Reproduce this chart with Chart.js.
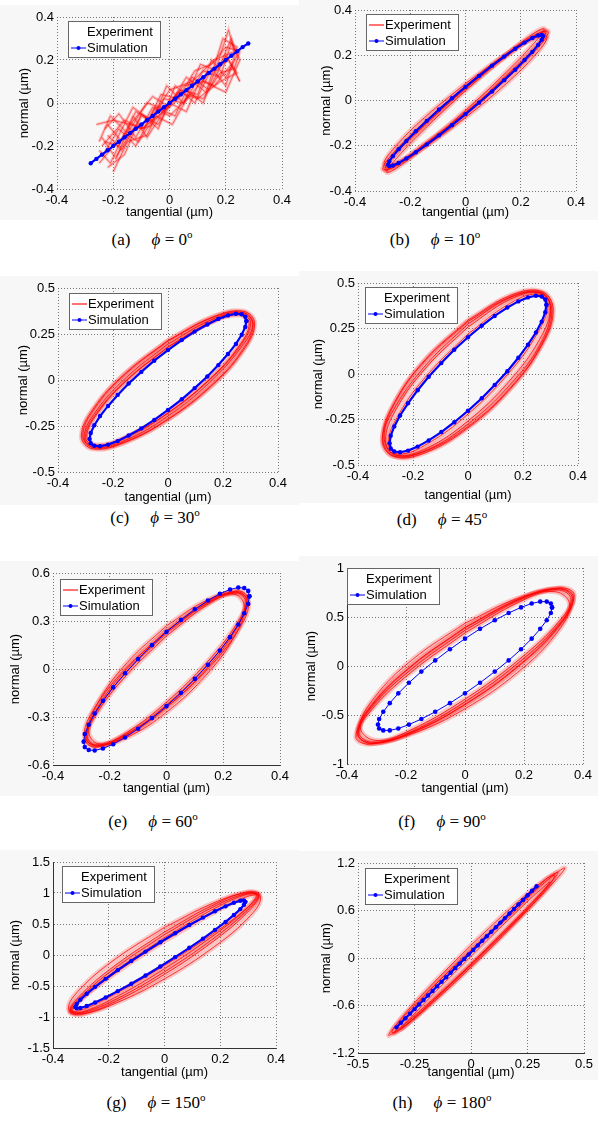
<!DOCTYPE html>
<html>
<head>
<meta charset="utf-8">
<script src="https://cdn.jsdelivr.net/npm/chart.js@4.4.0/dist/chart.umd.min.js"></script>
<style>
  body { margin: 0; background: #fff; }
  #page { position: relative; width: 598px; height: 1122px; overflow: hidden; }
  #page canvas { position: absolute; background: #f7f7f7; }
  .cap { position: absolute; font-family: 'Liberation Serif', 'Times New Roman', serif; font-size: 17px;
         white-space: pre; transform: translate(-50%, -50%); color: #000; }
  .cap sup { font-size: 11px; vertical-align: 7px; line-height: 0; }
</style>
</head>
<body>
<div id="page"></div>
<script>
// ---- (a) phi = 0 ----
const simA_x = [-0.28,-0.26,-0.24,-0.22,-0.20,-0.18,-0.16,-0.14,-0.12,-0.10,-0.08,-0.06,-0.04,-0.02,0,0.02,0.04,0.06,0.08,0.10,0.12,0.14,0.16,0.18,0.20,0.22,0.24,0.26,0.28];
const simA_y = [-0.28,-0.26,-0.24,-0.22,-0.20,-0.18,-0.16,-0.14,-0.12,-0.10,-0.08,-0.06,-0.04,-0.02,0,0.02,0.04,0.06,0.08,0.10,0.12,0.14,0.16,0.18,0.20,0.22,0.24,0.26,0.277];
const expA1_x = [-0.24,-0.18,-0.12,-0.05,0.02,0.08,0.14,0.20,0.24,0.18,0.10,0.03,-0.04,-0.10,-0.17,-0.22];
const expA1_y = [-0.25,-0.12,-0.20,-0.02,-0.06,0.12,0.06,0.22,0.14,0.10,0.02,0.05,-0.10,-0.06,-0.22,-0.15];
const expA2_x = [-0.20,-0.15,-0.08,-0.02,0.05,0.12,0.18,0.22,0.25,0.20,0.12,0.05,-0.03,-0.10,-0.16,-0.24];
const expA2_y = [-0.32,-0.18,-0.15,0.02,0.00,0.15,0.12,0.28,0.20,0.05,0.10,0.08,-0.05,-0.12,-0.08,-0.20];
const expA3_x = [-0.26,-0.20,-0.14,-0.06,0.00,0.06,0.12,0.17,0.21,0.23,0.16,0.08,0.00,-0.07,-0.13,-0.20,-0.25];
const expA3_y = [-0.10,-0.08,-0.10,0.03,-0.02,0.06,0.00,0.18,0.34,0.24,0.20,0.10,0.06,-0.08,-0.02,-0.20,-0.28];
const expA4_x = [-0.19,-0.13,-0.07,0.00,0.06,0.11,0.16,0.22,0.25,0.21,0.14,0.07,0.00,-0.06,-0.12,-0.18,-0.23];
const expA4_y = [-0.25,-0.12,-0.11,0.00,-0.04,0.11,0.08,0.18,0.10,0.20,0.14,0.03,-0.06,-0.02,-0.16,-0.05,-0.12];
const expA5_x = [-0.22,-0.16,-0.10,-0.04,0.02,0.09,0.15,0.20,0.24,0.19,0.13,0.06,-0.01,-0.08,-0.15,-0.21,-0.25];
const expA5_y = [-0.30,-0.24,-0.05,-0.12,0.08,0.00,0.16,0.08,0.26,0.30,0.05,0.12,-0.03,0.00,-0.14,-0.06,-0.18];
const expA6_x = [-0.25,-0.21,-0.16,-0.11,-0.05,0.01,0.07,0.12,0.18,0.23,0.25,0.20,0.15,0.09,0.03,-0.03,-0.09,-0.14,-0.19,-0.24];
const expA6_y = [-0.22,-0.28,-0.14,-0.18,-0.06,-0.10,0.04,0.02,0.14,0.16,0.24,0.26,0.18,0.15,0.02,0.04,-0.12,-0.10,-0.26,-0.16];
const expA7_x = [-0.23,-0.18,-0.13,-0.08,-0.02,0.04,0.10,0.15,0.20,0.24,0.22,0.17,0.11,0.05,-0.01,-0.06,-0.12,-0.17,-0.22];
const expA7_y = [-0.18,-0.20,-0.06,-0.16,-0.04,0.06,0.04,0.20,0.12,0.22,0.30,0.15,0.18,0.00,0.08,-0.08,-0.04,-0.18,-0.10];

// ---- (b) phi = 10 ----
const simB_x = [0.280,0.276,0.263,0.242,0.214,0.180,0.140,0.096,0.049,0,-0.049,-0.096,-0.140,-0.180,-0.214,-0.242,-0.263,-0.276,-0.280,-0.276,-0.263,-0.242,-0.214,-0.180,-0.140,-0.096,-0.049,0,0.049,0.096,0.140,0.180,0.214,0.242,0.263,0.276,0.280];
const simB_y = [0.284,0.290,0.287,0.276,0.256,0.229,0.194,0.154,0.109,0.060,0.010,-0.040,-0.090,-0.136,-0.179,-0.215,-0.246,-0.269,-0.284,-0.290,-0.287,-0.276,-0.256,-0.229,-0.194,-0.154,-0.109,-0.060,-0.010,0.040,0.090,0.136,0.179,0.215,0.246,0.269,0.284];
const expB1_x = [0,-0.145,-0.251,-0.290,-0.251,-0.145,0,0.145,0.251,0.290,0.251,0.145,0];
const expB1_y = [0.052,-0.103,-0.230,-0.296,-0.282,-0.188,-0.052,0.103,0.230,0.296,0.282,0.198,0.052];
const expB2_x = [0,-0.150,-0.260,-0.300,-0.260,-0.150,0,0.150,0.260,0.300,0.260,0.150,0];
const expB2_y = [0.064,-0.096,-0.230,-0.303,-0.295,-0.207,-0.064,0.096,0.230,0.303,0.295,0.207,0.064];
const expB3_x = [0,-0.143,-0.247,-0.285,-0.247,-0.143,0,0.143,0.247,0.285,0.247,0.143,0];
const expB3_y = [0.044,-0.120,-0.252,-0.317,-0.297,-0.197,-0.044,0.120,0.252,0.317,0.297,0.197,0.044];
const expB4_x = [0,-0.148,-0.255,-0.295,-0.255,-0.148,0,0.148,0.255,0.295,0.255,0.148,0];
const expB4_y = [0.075,-0.075,-0.205,-0.280,-0.280,-0.205,-0.075,0.075,0.205,0.280,0.280,0.205,0.075];
const expB5_x = [0,-0.147,-0.256,-0.292,-0.256,-0.147,0,0.147,0.256,0.292,0.256,0.147,0];
const expB5_y = [0.058,-0.110,-0.240,-0.306,-0.290,-0.195,-0.058,0.110,0.240,0.306,0.290,0.195,0.058];

// ---- (c) phi = 30 ----
const simC_x = [0.285,0.281,0.268,0.247,0.218,0.183,0.143,0.097,0.050,0,-0.050,-0.097,-0.143,-0.183,-0.218,-0.247,-0.268,-0.281,-0.285,-0.281,-0.268,-0.247,-0.218,-0.183,-0.143,-0.097,-0.050,0,0.050,0.097,0.143,0.183,0.218,0.247,0.268,0.281,0.285];
const simC_y = [0.321,0.344,0.357,0.360,0.351,0.332,0.302,0.263,0.217,0.163,0.105,0.044,-0.019,-0.081,-0.141,-0.196,-0.246,-0.288,-0.321,-0.344,-0.357,-0.360,-0.351,-0.332,-0.302,-0.263,-0.217,-0.163,-0.105,-0.044,0.019,0.081,0.141,0.196,0.246,0.288,0.321];
const expC1_x = [0,-0.150,-0.260,-0.300,-0.260,-0.150,0,0.150,0.260,0.300,0.260,0.150,0];
const expC1_y = [0.180,0,-0.180,-0.312,-0.360,-0.312,-0.180,0,0.180,0.312,0.360,0.312,0.180];
const expC2_x = [0,-0.155,-0.268,-0.310,-0.268,-0.155,0,0.155,0.268,0.310,0.268,0.155,0];
const expC2_y = [0.212,0.032,-0.157,-0.303,-0.369,-0.335,-0.212,-0.032,0.157,0.303,0.369,0.335,0.212];
const expC3_x = [0,-0.148,-0.255,-0.295,-0.255,-0.148,0,0.148,0.255,0.295,0.255,0.148,0];
const expC3_y = [0.178,0,-0.178,-0.307,-0.355,-0.307,-0.178,0,0.178,0.307,0.355,0.307,0.178];
const expC4_x = [0,-0.158,-0.273,-0.315,-0.273,-0.158,0,0.158,0.273,0.315,0.273,0.158,0];
const expC4_y = [0.215,0.033,-0.159,-0.307,-0.374,-0.340,-0.215,-0.033,0.159,0.307,0.374,0.340,0.215];
const expC5_x = [0,-0.152,-0.262,-0.305,-0.266,-0.152,0,0.150,0.262,0.308,0.270,0.156,0];
const expC5_y = [0.196,0.014,-0.170,-0.310,-0.366,-0.326,-0.196,-0.016,0.170,0.300,0.366,0.326,0.196];

// ---- (d) phi = 45 ----
const simD_x = [0.285,0.281,0.268,0.247,0.218,0.183,0.143,0.097,0.050,0,-0.050,-0.097,-0.143,-0.183,-0.218,-0.247,-0.268,-0.281,-0.285,-0.281,-0.268,-0.247,-0.218,-0.183,-0.143,-0.097,-0.050,0,0.050,0.097,0.143,0.183,0.218,0.247,0.268,0.281,0.285];
const simD_y = [0.380,0.409,0.426,0.430,0.421,0.399,0.365,0.319,0.265,0.202,0.133,0.060,-0.015,-0.089,-0.161,-0.228,-0.288,-0.339,-0.380,-0.409,-0.426,-0.430,-0.421,-0.399,-0.365,-0.319,-0.265,-0.202,-0.133,-0.060,0.015,0.089,0.161,0.228,0.288,0.339,0.380];
const expD1_x = [0,-0.150,-0.260,-0.300,-0.260,-0.150,0,0.150,0.260,0.300,0.260,0.150,0];
const expD1_y = [0.258,0.039,-0.190,-0.369,-0.448,-0.408,-0.258,-0.039,0.190,0.369,0.448,0.408,0.258];
const expD2_x = [0,-0.155,-0.268,-0.310,-0.268,-0.155,0,0.155,0.268,0.310,0.268,0.155,0];
const expD2_y = [0.296,0.080,-0.157,-0.352,-0.453,-0.432,-0.296,-0.080,0.157,0.352,0.453,0.432,0.296];
const expD3_x = [0,-0.145,-0.251,-0.290,-0.251,-0.145,0,0.145,0.251,0.290,0.251,0.145,0];
const expD3_y = [0.220,0,-0.220,-0.381,-0.440,-0.381,-0.220,0,0.220,0.381,0.440,0.381,0.220];
const expD4_x = [0,-0.153,-0.264,-0.305,-0.264,-0.153,0,0.153,0.264,0.305,0.264,0.153,0];
const expD4_y = [0.289,0.078,-0.154,-0.345,-0.443,-0.423,-0.289,-0.078,0.154,0.345,0.443,0.423,0.289];
const expD5_x = [0,-0.148,-0.262,-0.312,-0.270,-0.150,0,0.152,0.266,0.300,0.262,0.150,0];
const expD5_y = [0.275,0.058,-0.175,-0.360,-0.452,-0.418,-0.275,-0.060,0.172,0.360,0.450,0.418,0.275];

// ---- (e) phi = 60 ----
const simE_x = [0.292,0.288,0.274,0.253,0.224,0.188,0.146,0.100,0.051,0,-0.051,-0.100,-0.146,-0.188,-0.224,-0.253,-0.274,-0.288,-0.292,-0.288,-0.274,-0.253,-0.224,-0.188,-0.146,-0.100,-0.051,0,0.051,0.100,0.146,0.188,0.224,0.253,0.274,0.288,0.292];
const simE_y = [0.454,0.488,0.506,0.509,0.497,0.470,0.428,0.373,0.307,0.232,0.149,0.062,-0.027,-0.115,-0.199,-0.278,-0.348,-0.407,-0.454,-0.488,-0.506,-0.509,-0.497,-0.470,-0.428,-0.373,-0.307,-0.232,-0.149,-0.062,0.027,0.115,0.199,0.278,0.348,0.407,0.454];
const expE1_x = [0,-0.140,-0.242,-0.280,-0.242,-0.140,0,0.140,0.242,0.280,0.242,0.140,0];
const expE1_y = [0.240,0,-0.240,-0.416,-0.480,-0.416,-0.240,0,0.240,0.416,0.480,0.416,0.240];
const expE2_x = [0,-0.143,-0.247,-0.285,-0.247,-0.143,0,0.143,0.247,0.285,0.247,0.143,0];
const expE2_y = [0.207,-0.043,-0.281,-0.444,-0.488,-0.401,-0.207,0.043,0.281,0.444,0.488,0.401,0.207];
const expE3_x = [0,-0.138,-0.238,-0.275,-0.238,-0.138,0,0.138,0.238,0.275,0.238,0.138,0];
const expE3_y = [0.270,0.041,-0.199,-0.385,-0.468,-0.426,-0.270,-0.041,0.199,0.385,0.468,0.426,0.270];
const expE4_x = [0,-0.145,-0.251,-0.290,-0.251,-0.145,0,0.145,0.251,0.290,0.251,0.145,0];
const expE4_y = [0.238,0,-0.238,-0.411,-0.475,-0.411,-0.238,0,0.238,0.411,0.475,0.411,0.238];
const expE5_x = [0,-0.141,-0.244,-0.283,-0.245,-0.141,0,0.141,0.245,0.282,0.244,0.141,0];
const expE5_y = [0.225,-0.020,-0.258,-0.428,-0.482,-0.410,-0.225,0.020,0.258,0.430,0.484,0.410,0.225];

// ---- (f) phi = 90 ----
const simF_x = [0.295,0.291,0.277,0.255,0.226,0.190,0.148,0.101,0.051,0,-0.051,-0.101,-0.148,-0.190,-0.226,-0.255,-0.277,-0.291,-0.295,-0.291,-0.277,-0.255,-0.226,-0.190,-0.148,-0.101,-0.051,0,0.051,0.101,0.148,0.190,0.226,0.255,0.277,0.291,0.295];
const simF_y = [0.598,0.638,0.657,0.657,0.638,0.598,0.541,0.467,0.379,0.279,0.171,0.057,-0.057,-0.171,-0.279,-0.379,-0.467,-0.541,-0.598,-0.638,-0.657,-0.657,-0.638,-0.598,-0.541,-0.467,-0.379,-0.279,-0.171,-0.057,0.057,0.171,0.279,0.379,0.467,0.541,0.598];
const expF1_x = [0,-0.180,-0.312,-0.360,-0.312,-0.180,0,0.180,0.312,0.360,0.312,0.180,0];
const expF1_y = [0.390,0,-0.390,-0.675,-0.780,-0.675,-0.390,0,0.390,0.675,0.780,0.675,0.390];
const expF2_x = [0,-0.185,-0.320,-0.370,-0.320,-0.185,0,0.185,0.320,0.370,0.320,0.185,0];
const expF2_y = [0.338,-0.070,-0.459,-0.725,-0.797,-0.655,-0.338,0.070,0.459,0.725,0.797,0.655,0.338];
const expF3_x = [0,-0.178,-0.307,-0.355,-0.307,-0.178,0,0.178,0.307,0.355,0.307,0.178,0];
const expF3_y = [0.436,0.066,-0.321,-0.622,-0.757,-0.689,-0.436,-0.066,0.321,0.622,0.757,0.689,0.436];
const expF4_x = [0,-0.183,-0.316,-0.365,-0.316,-0.183,0,0.183,0.316,0.365,0.316,0.183,0];
const expF4_y = [0.395,0,-0.395,-0.684,-0.790,-0.684,-0.395,0,0.395,0.684,0.790,0.684,0.395];
const expF5_x = [0,-0.182,-0.318,-0.362,-0.310,-0.180,0,0.182,0.318,0.368,0.314,0.180,0];
const expF5_y = [0.365,-0.035,-0.425,-0.700,-0.790,-0.668,-0.365,0.035,0.425,0.700,0.792,0.668,0.365];

// ---- (g) phi = 150 ----
const simG_x = [0.290,0.285,0.272,0.249,0.219,0.181,0.138,0.089,0.038,-0.015,-0.068,-0.119,-0.168,-0.211,-0.249,-0.279,-0.302,-0.315,-0.320,-0.315,-0.302,-0.279,-0.249,-0.211,-0.168,-0.119,-0.068,-0.015,0.038,0.089,0.138,0.181,0.219,0.249,0.272,0.285,0.290];
const simG_y = [0.857,0.879,0.874,0.842,0.785,0.705,0.603,0.484,0.350,0.206,0.055,-0.096,-0.244,-0.385,-0.514,-0.626,-0.720,-0.791,-0.837,-0.859,-0.854,-0.822,-0.765,-0.685,-0.583,-0.464,-0.330,-0.186,-0.035,0.116,0.264,0.405,0.534,0.646,0.740,0.811,0.857];
const expG1_x = [0,-0.170,-0.294,-0.340,-0.294,-0.170,0,0.170,0.294,0.340,0.294,0.170,0];
const expG1_y = [0.372,-0.144,-0.613,-0.910,-0.955,-0.736,-0.312,0.204,0.673,0.970,1.015,0.796,0.372];
const expG2_x = [0,-0.165,-0.286,-0.330,-0.286,-0.165,0,0.165,0.286,0.330,0.286,0.165,0];
const expG2_y = [0.281,-0.221,-0.656,-0.907,-0.907,-0.656,-0.221,0.281,0.716,0.967,0.967,0.716,0.281];
const expG3_x = [0,-0.173,-0.299,-0.345,-0.299,-0.173,0,0.173,0.299,0.345,0.299,0.173,0];
const expG3_y = [0.445,-0.055,-0.533,-0.858,-0.946,-0.773,-0.385,0.115,0.593,0.918,1.006,0.833,0.445];
const expG4_x = [0,-0.168,-0.290,-0.335,-0.290,-0.168,0,0.168,0.290,0.335,0.290,0.168,0];
const expG4_y = [0.228,-0.264,-0.676,-0.899,-0.873,-0.606,-0.168,0.324,0.736,0.959,0.933,0.666,0.228];
const expG5_x = [0,-0.168,-0.292,-0.338,-0.292,-0.168,0,0.168,0.292,0.338,0.292,0.168,0];
const expG5_y = [0.330,-0.180,-0.640,-0.905,-0.930,-0.700,-0.270,0.240,0.700,0.965,0.990,0.760,0.330];

// ---- (h) phi = 180 ----
const simH_x = [-0.33,-0.31,-0.29,-0.27,-0.25,-0.23,-0.21,-0.19,-0.17,-0.15,-0.13,-0.11,-0.09,-0.07,-0.05,-0.03,-0.01,0.01,0.03,0.05,0.07,0.09,0.11,0.13,0.15,0.17,0.19,0.21,0.23,0.25,0.27,0.29];
const simH_y = [-0.876,-0.818,-0.761,-0.703,-0.646,-0.588,-0.531,-0.473,-0.416,-0.358,-0.301,-0.243,-0.186,-0.128,-0.071,-0.013,0.044,0.102,0.159,0.217,0.274,0.332,0.389,0.447,0.504,0.562,0.619,0.677,0.734,0.792,0.849,0.907];
const expH1_x = [0.025,-0.170,-0.313,-0.365,-0.313,-0.170,0.025,0.220,0.363,0.415,0.363,0.220,0.025];
const expH1_y = [0.172,-0.368,-0.788,-0.976,-0.880,-0.528,-0.012,0.528,0.948,1.136,1.040,0.688,0.172];
const expH2_x = [0.010,-0.170,-0.302,-0.350,-0.302,-0.170,0.010,0.190,0.322,0.370,0.322,0.190,0.010];
const expH2_y = [0.189,-0.325,-0.738,-0.940,-0.877,-0.566,-0.089,0.425,0.838,1.040,0.977,0.666,0.189];
const expH3_x = [0.020,-0.145,-0.266,-0.310,-0.266,-0.145,0.020,0.185,0.306,0.350,0.306,0.185,0.020];
const expH3_y = [0.078,-0.392,-0.750,-0.899,-0.799,-0.477,-0.018,0.452,0.810,0.959,0.859,0.537,0.078];
const expH4_x = [0.015,-0.160,-0.290,-0.340,-0.290,-0.160,0.015,0.200,0.330,0.385,0.330,0.200,0.015];
const expH4_y = [0.130,-0.345,-0.760,-0.950,-0.850,-0.520,-0.050,0.480,0.880,1.080,0.990,0.610,0.130];

// panel layout (page pixels) and axis settings
const panels = [
  { cap: '(a)', phi: '0',   x0: 0,   L: 57,  R: 282, T: 17,  B: 189,  xr: [-0.4, 0.4, 0.2],  yr: [-0.4, 0.4, 0.2],
    yTitle: 24, xTitle: 23, leg: [11, 4], red: false, bx: false, by: false, sim: [simA_x, simA_y], thin: false, tension: 0,
    exp: [[expA1_x, expA1_y], [expA2_x, expA2_y], [expA3_x, expA3_y], [expA4_x, expA4_y], [expA5_x, expA5_y], [expA6_x, expA6_y], [expA7_x, expA7_y]], cx: 152, cy: 240 },
  { cap: '(b)', phi: '10',  x0: 299, L: 355, R: 576, T: 10,  B: 191,  xr: [-0.4, 0.4, 0.2],  yr: [-0.4, 0.4, 0.2],
    yTitle: 27, xTitle: 21, leg: [11, 4], red: true, bx: false, by: false, sim: [simB_x, simB_y], thin: false, tension: 0.4,
    exp: [[expB1_x, expB1_y], [expB2_x, expB2_y], [expB3_x, expB3_y], [expB4_x, expB4_y], [expB5_x, expB5_y]], cx: 435, cy: 240 },
  { cap: '(c)', phi: '30',  x0: 0,   L: 58,  R: 278, T: 288, B: 472,  xr: [-0.4, 0.4, 0.2],  yr: [-0.5, 0.5, 0.25],
    yTitle: 23, xTitle: 25, leg: [11, 5], red: true, bx: false, by: false, sim: [simC_x, simC_y], thin: false, tension: 0.4,
    exp: [[expC1_x, expC1_y], [expC2_x, expC2_y], [expC3_x, expC3_y], [expC4_x, expC4_y], [expC5_x, expC5_y]], cx: 155, cy: 518 },
  { cap: '(d)', phi: '45',  x0: 299, L: 358, R: 578, T: 283, B: 465,  xr: [-0.4, 0.4, 0.2],  yr: [-0.5, 0.5, 0.25],
    yTitle: 19, xTitle: 30, leg: [7, 4], red: false, bx: false, by: false, sim: [simD_x, simD_y], thin: false, tension: 0.4,
    exp: [[expD1_x, expD1_y], [expD2_x, expD2_y], [expD3_x, expD3_y], [expD4_x, expD4_y], [expD5_x, expD5_y]], cx: 442, cy: 520 },
  { cap: '(e)', phi: '60',  x0: 0,   L: 53,  R: 280, T: 573, B: 765,  xr: [-0.4, 0.4, 0.2],  yr: [-0.6, 0.6, 0.3],
    yTitle: 15, xTitle: 23, leg: [7, 6], red: true, bx: true, by: false, sim: [simE_x, simE_y], thin: true, tension: 0.4,
    exp: [[expE1_x, expE1_y], [expE2_x, expE2_y], [expE3_x, expE3_y], [expE4_x, expE4_y], [expE5_x, expE5_y]], cx: 153, cy: 822 },
  { cap: '(f)', phi: '90',  x0: 299, L: 347, R: 583, T: 568, B: 764,  xr: [-0.4, 0.4, 0.2],  yr: [-1, 1, 0.5],
    yTitle: 12, xTitle: 24, leg: [0, 0], red: false, bx: false, by: true, sim: [simF_x, simF_y], thin: true, tension: 0.4,
    exp: [[expF1_x, expF1_y], [expF2_x, expF2_y], [expF3_x, expF3_y], [expF4_x, expF4_y], [expF5_x, expF5_y]], cx: 442, cy: 822 },
  { cap: '(g)', phi: '150', x0: 0,   L: 53,  R: 276, T: 862, B: 1048, xr: [-0.4, 0.4, 0.2],  yr: [-1.5, 1.5, 0.5],
    yTitle: 15, xTitle: 24, leg: [9, 4], red: false, bx: true, by: true, sim: [simG_x, simG_y], thin: false, tension: 0.4,
    exp: [[expG1_x, expG1_y], [expG2_x, expG2_y], [expG3_x, expG3_y], [expG4_x, expG4_y], [expG5_x, expG5_y]], cx: 156, cy: 1103 },
  { cap: '(h)', phi: '180', x0: 299, L: 358, R: 584, T: 863, B: 1053, xr: [-0.5, 0.5, 0.25], yr: [-1.2, 1.2, 0.6],
    yTitle: 27, xTitle: 19, leg: [7, 5], red: false, bx: true, by: false, sim: [simH_x, simH_y], thin: false, tension: 0.4,
    exp: [[expH1_x, expH1_y], [expH2_x, expH2_y], [expH3_x, expH3_y], [expH4_x, expH4_y]], cx: 442, cy: 1103 }
];

const FONT = "'Liberation Sans', Arial, sans-serif";
Chart.defaults.font.family = FONT;
Chart.defaults.font.size = 13;
Chart.defaults.color = '#000';

function pts(xs, ys) {
  return xs.map((x, i) => ({ x: x, y: ys[i] }));
}

// legend box drawn inside the plot area, like the MATLAB one
const legendBox = {
  id: 'legendBox',
  afterDatasetsDraw(chart, args, o) {
    const ctx = chart.ctx, a = chart.chartArea;
    const x = a.left + o.dx, y = a.top + o.dy, w = 92, h = 36;
    ctx.save();
    ctx.fillStyle = '#fff';
    ctx.fillRect(x, y, w, h);
    ctx.strokeStyle = '#666';
    ctx.lineWidth = 1;
    ctx.strokeRect(x + 0.5, y + 0.5, w, h);
    if (o.red) {
      ctx.strokeStyle = 'rgba(255,0,0,0.85)';
      ctx.lineWidth = 1.3;
      ctx.beginPath(); ctx.moveTo(x + 3, y + 11); ctx.lineTo(x + 18, y + 11); ctx.stroke();
    }
    ctx.strokeStyle = '#0000ff';
    ctx.lineWidth = 1;
    ctx.beginPath(); ctx.moveTo(x + 3, y + 27); ctx.lineTo(x + 18, y + 27); ctx.stroke();
    ctx.fillStyle = '#0000ff';
    ctx.beginPath(); ctx.arc(x + 10.5, y + 27, 2, 0, Math.PI * 2); ctx.fill();
    ctx.fillStyle = '#000';
    ctx.font = '13px ' + FONT;
    ctx.textBaseline = 'middle';
    ctx.fillText('Experiment', x + 19, y + 11);
    ctx.fillText('Simulation', x + 19, y + 27);
    ctx.restore();
  }
};

const page = document.getElementById('page');

panels.forEach(p => {
  const xH = p.xTitle + 8;                 // height of x axis box
  const cw = 299, ch = 12 + (p.B - p.T) + xH;
  const canvas = document.createElement('canvas');
  canvas.width = cw; canvas.height = ch;
  canvas.style.left = p.x0 + 'px';
  canvas.style.top = (p.T - 12) + 'px';
  page.appendChild(canvas);

  const datasets = [{
    data: pts(p.sim[0], p.sim[1]),
    showLine: true,
    borderColor: '#0000ff',
    borderWidth: p.thin ? 1 : 2.2,
    pointRadius: p.thin ? 2.3 : 2.2,
    pointBackgroundColor: '#0000ff',
    pointBorderWidth: 0,
    tension: 0
  }];
  // thin experiment traces
  p.exp.forEach(e => {
    datasets.push({
      data: pts(e[0], e[1]),
      showLine: true,
      borderColor: 'rgba(255,0,0,0.85)',
      borderWidth: p.tension ? 0.9 : 0.6,
      pointRadius: 0,
      tension: p.tension
    });
  });
  // soft haze behind them, same traces
  p.exp.forEach(e => {
    datasets.push({
      data: pts(e[0], e[1]),
      showLine: true,
      borderColor: 'rgba(255,20,20,0.22)',
      borderWidth: p.tension ? 5 : 3,
      pointRadius: 0,
      tension: p.tension
    });
  });

  const axis = (r, solid, title) => ({
    type: 'linear',
    min: r[0], max: r[1],
    ticks: { stepSize: r[2], autoSkip: false, maxRotation: 0, padding: 3, color: '#000', font: { size: 13 },
             callback: v => String(Math.round(v * 100) / 100) },
    grid: { color: '#555', lineWidth: 0.8, drawTicks: false },
    border: { display: solid, color: '#333', width: 1, dash: [1, 2] },
    title: { display: true, text: title, font: { size: 13 }, color: '#000', padding: 0 }
  });

  const xs = axis(p.xr, p.bx, 'tangential (\u00b5m)');
  xs.ticks.padding = 4;
  xs.afterFit = s => { s.height = xH; };
  const ys = axis(p.yr, p.by, 'normal (\u00b5m)');
  ys.title.padding = { top: p.yTitle - 7.8, bottom: 0 };
  ys.afterFit = s => { s.width = p.L - p.x0; };

  new Chart(canvas.getContext('2d'), {
    type: 'scatter',
    data: { datasets: datasets },
    options: {
      responsive: false,
      animation: false,
      events: [],
      layout: { padding: { left: 0, top: 12, right: p.x0 + cw - p.R, bottom: 0 } },
      scales: { x: xs, y: ys },
      plugins: {
        legend: { display: false },
        tooltip: { enabled: false },
        legendBox: { dx: p.leg[0], dy: p.leg[1], red: p.red }
      }
    },
    plugins: [legendBox]
  });

  const cap = document.createElement('div');
  cap.className = 'cap';
  cap.style.left = p.cx + 'px';
  cap.style.top = p.cy + 'px';
  cap.innerHTML = p.cap + '     <i>\u03d5</i> = ' + p.phi + '<sup>o</sup>';
  page.appendChild(cap);
});
</script>
</body>
</html>
